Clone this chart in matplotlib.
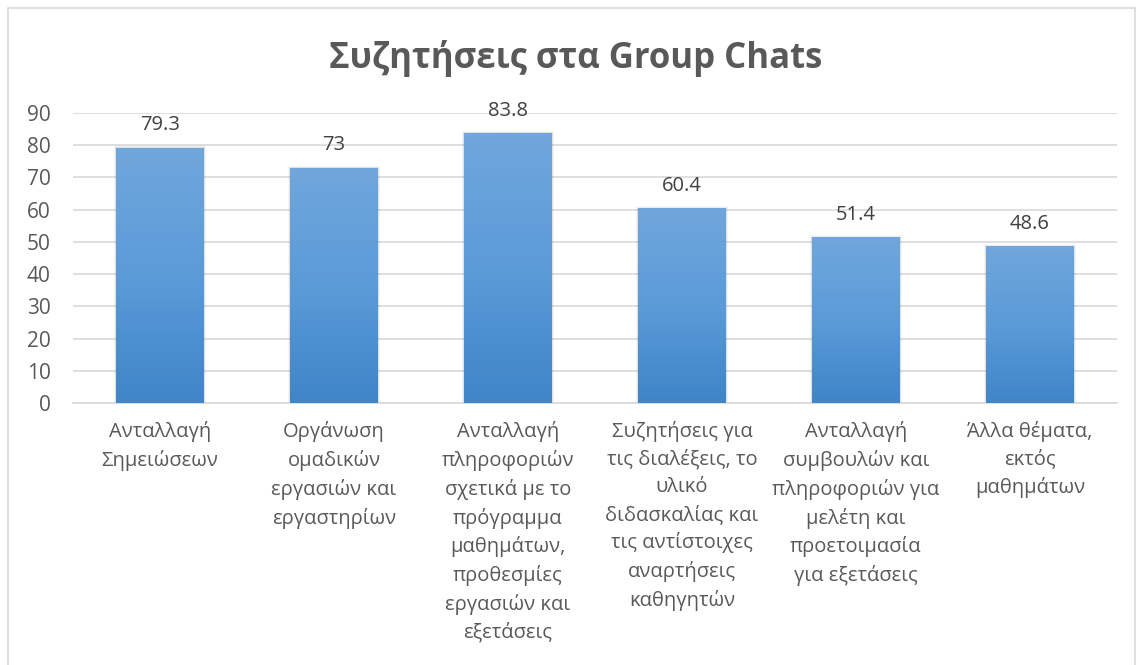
import numpy as np
import matplotlib.pyplot as plt
from matplotlib.colors import LinearSegmentedColormap
from matplotlib.patches import Rectangle

plt.rcParams['font.family'] = ['Open Sans', 'DejaVu Sans']

categories = ['Ανταλλαγή\nΣημειώσεων',
              'Οργάνωση\nομαδικών\nεργασιών και\nεργαστηρίων',
              'Ανταλλαγή\nπληροφοριών\nσχετικά με το\nπρόγραμμα\nμαθημάτων,\nπροθεσμίες\nεργασιών και\nεξετάσεις',
              'Συζητήσεις για\nτις διαλέξεις, το\nυλικό\nδιδασκαλίας και\nτις αντίστοιχες\nαναρτήσεις\nκαθηγητών',
              'Ανταλλαγή\nσυμβουλών και\nπληροφοριών για\nμελέτη και\nπροετοιμασία\nγια εξετάσεις',
              'Άλλα θέματα,\nεκτός\nμαθημάτων']
values = [79.3, 73, 83.8, 60.4, 51.4, 48.6]
value_labels = ['79.3', '73', '83.8', '60.4', '51.4', '48.6']
yticks = list(range(0, 100, 10))

txt = '#595959'
fig = plt.figure(figsize=(11.38, 6.65), dpi=100)
ax = fig.add_axes([0.0641, 0.394, 0.9174, 0.436])

# outer chart border
fig.patches.append(Rectangle((0.007, -0.01), 0.99, 0.998, transform=fig.transFigure,
                             fill=False, ec='#d9d9d9', lw=1.2))

x = np.arange(len(values))
bars = ax.bar(x, values, width=0.505, color='none', zorder=3)

cmap = LinearSegmentedColormap.from_list('blu', ['#3f85c8', '#5b9bd8', '#70a7dc'])
grad = np.linspace(0, 1, 256).reshape(-1, 1)
for b in bars:
    x0, y0, w, h = b.get_x(), b.get_y(), b.get_width(), b.get_height()
    # soft shadow
    for k, a in enumerate([0.05, 0.04, 0.03]):
        ax.add_patch(Rectangle((x0 - 0.004 * (k + 1), y0), w + 0.008 * (k + 1), h + 0.2 * (k + 1),
                               color='k', alpha=a, lw=0, zorder=2))
    im = ax.imshow(grad, extent=[x0, x0 + w, y0, y0 + h], origin='lower', cmap=cmap,
                   aspect='auto', zorder=3)
    im.set_clip_path(b)

ax.bar_label(bars, labels=value_labels, padding=9, fontsize=14.5, color='#404040')

ax.set_xlim(-0.5, len(values) - 0.5)
ax.set_ylim(0, 90)
ax.set_yticks(yticks)
ax.set_xticks(x)
ax.set_xticklabels(categories, fontsize=14.5, color=txt, linespacing=1.49, va='top')
ax.tick_params(axis='y', labelsize=15, labelcolor=txt, length=0, pad=16)
ax.tick_params(axis='x', length=0, pad=13)
ax.grid(axis='y', color='#d9d9d9', lw=1.2, zorder=0)
ax.set_axisbelow(True)
for s in ['top', 'right', 'left']:
    ax.spines[s].set_visible(False)
ax.spines['bottom'].set_color('#d9d9d9')
ax.spines['bottom'].set_linewidth(1.2)

fig.text(0.506, 0.912, 'Συζητήσεις στα Group Chats', ha='center', va='center',
         fontsize=25, fontweight='bold', color=txt)

fig.savefig('out.png', dpi=100, facecolor='white')
